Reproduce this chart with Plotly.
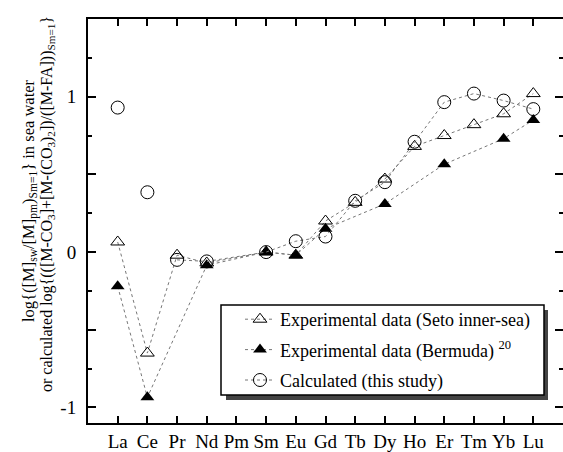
import plotly.graph_objects as go

elements = ["La", "Ce", "Pr", "Nd", "Pm", "Sm", "Eu", "Gd", "Tb", "Dy", "Ho", "Er", "Tm", "Yb", "Lu"]
seto = [0.065, -0.65, -0.02, -0.07, None, 0.0, -0.02, 0.20, 0.32, 0.47, 0.68, 0.75, 0.82, 0.89, 1.02]
bermuda = [-0.22, -0.935, None, -0.085, None, 0.0, -0.02, 0.15, None, 0.31, None, 0.565, None, 0.73, 0.85]
calculated = [0.93, 0.385, -0.05, -0.06, None, 0.0, 0.07, 0.10, 0.33, 0.45, 0.71, 0.965, 1.02, 0.975, 0.92]
y_tickvals = [-1, -0.5, 0, 0.5, 1]
y_ticktext = ["-1", "", "0", "", "1"]

FONT = "Liberation Serif"
LINE = dict(color="#777777", width=1, dash="dot")

def xy(vals, idx=None):
    xs, ys = [], []
    for i, v in enumerate(vals):
        if v is None or (idx is not None and i not in idx):
            continue
        xs.append(i)
        ys.append(v)
    return xs, ys

fig = go.Figure()

x, y = xy(seto)
fig.add_trace(go.Scatter(x=x, y=y, mode="lines+markers", name="Experimental data (Seto inner-sea)",
                         line=LINE, legendgroup="a",
                         marker=dict(symbol="triangle-up-open", size=12, color="black", line=dict(width=1))))
x, y = xy(bermuda)
fig.add_trace(go.Scatter(x=x, y=y, mode="lines+markers", name="Experimental data (Bermuda) <sup>20</sup>",
                         line=LINE, legendgroup="b",
                         marker=dict(symbol="triangle-up", size=12, color="black", line=dict(width=0))))
x, y = xy(calculated, idx=set(range(2, 15)))
fig.add_trace(go.Scatter(x=x, y=y, mode="lines+markers", name="Calculated (this study)",
                         line=LINE, legendgroup="c",
                         marker=dict(symbol="circle-open", size=13, color="black", line=dict(width=1))))
x, y = xy(calculated, idx={0, 1})
fig.add_trace(go.Scatter(x=x, y=y, mode="markers", showlegend=False, legendgroup="c",
                         marker=dict(symbol="circle-open", size=13, color="black", line=dict(width=1))))

L, R, T, B = 88, 0, 19, 29
W, H = 563, 452
pw, ph = W - L - R, H - T - B

def px(xp):
    return (xp - L) / pw

def py(yp):
    return (H - B - yp) / ph

# legend shadow and box
fig.add_shape(type="rect", xref="paper", yref="paper",
              x0=px(226), x1=px(548), y0=py(400), y1=py(310),
              fillcolor="#444444", line=dict(width=0), layer="above")
fig.add_shape(type="rect", xref="paper", yref="paper",
              x0=px(221), x1=px(544), y0=py(395), y1=py(305),
              fillcolor="white", line=dict(width=1.5, color="black"), layer="above")

fig.update_layout(
    width=W, height=H,
    margin=dict(l=L, r=R, t=T, b=B, autoexpand=False),
    paper_bgcolor="white", plot_bgcolor="white",
    font=dict(family=FONT, size=18, color="black"),
    showlegend=True,
    legend=dict(x=px(240), y=py(301), xanchor="left", yanchor="top",
                bgcolor="rgba(0,0,0,0)", borderwidth=0,
                font=dict(family=FONT, size=18), tracegroupgap=4,
                traceorder="grouped"),
    xaxis=dict(range=[-1, 15], tickmode="array", tickvals=list(range(len(elements))), ticktext=elements,
               ticks="inside", ticklen=7, tickwidth=2, tickcolor="black", automargin=False,
               showline=True, linewidth=2, linecolor="black", mirror="allticks",
               showgrid=False, zeroline=False, tickfont=dict(family=FONT, size=19)),
    yaxis=dict(range=[-1.1, 1.5], tickmode="array", tickvals=y_tickvals, ticktext=y_ticktext,
               ticks="inside", ticklen=8, tickwidth=2, tickcolor="black", automargin=False,
               minor=dict(tickmode="linear", tick0=0, dtick=0.25, ticks="inside", ticklen=4,
                          tickwidth=2, tickcolor="black"),
               showline=True, linewidth=2, linecolor="black", mirror="allticks",
               showgrid=False, zeroline=False, tickfont=dict(family=FONT, size=19), ticklabelstandoff=6),
)

fig.add_annotation(xref="paper", yref="paper", x=px(30), y=py(201), xanchor="center", yanchor="middle",
                   textangle=-90, showarrow=False, font=dict(family=FONT, size=16.5),
                   text="log{([M]<sub>sw</sub>/[M]<sub>pm</sub>)<sub>Sm=1</sub>} in sea water")
fig.add_annotation(xref="paper", yref="paper", x=px(48), y=py(204), xanchor="center", yanchor="middle",
                   textangle=-90, showarrow=False, font=dict(family=FONT, size=16),
                   text="or calculated log{(([M-CO<sub>3</sub>]+[M-(CO<sub>3</sub>)<sub>2</sub>])/([M-FA]))<sub>Sm=1</sub>}")

fig.write_html("out.html", config={"displayModeBar": False},
               post_script="document.body.style.margin='0px';")
